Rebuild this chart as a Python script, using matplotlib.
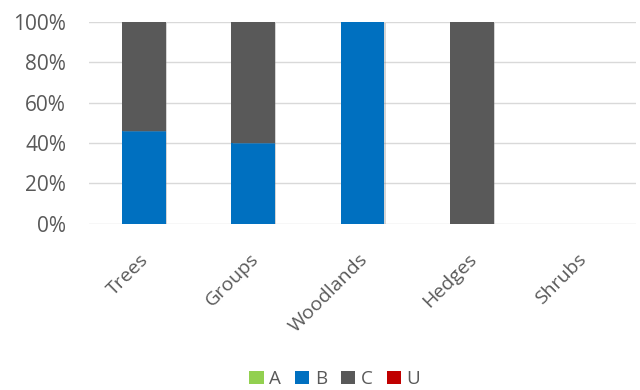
import numpy as np
import matplotlib.pyplot as plt
import matplotlib.patheffects as pe
import matplotlib.transforms as mtrans
from matplotlib.patches import Patch
from matplotlib.ticker import PercentFormatter

categories = ["Trees", "Groups", "Woodlands", "Hedges", "Shrubs"]
series_names = ["A", "B", "C", "U"]
a_vals = [0, 0, 0, 0, 0]
b_vals = [46, 40, 100, 0, 0]
c_vals = [54, 60, 0, 100, 0]
u_vals = [0, 0, 0, 0, 0]
colors = ["#92D050", "#0070C0", "#595959", "#C00000"]

plt.rcParams['font.family'] = ['Open Sans', 'DejaVu Sans']

fig = plt.figure(figsize=(6.4, 3.9), dpi=100)
ax = fig.add_axes([0.139, 0.426, 0.855, 0.518])

x = np.arange(len(categories))
bottom = np.zeros(len(categories))
shadow = [pe.SimplePatchShadow(offset=(1, -1), shadow_rgbFace='#888888', alpha=0.35), pe.Normal()]
for vals, col in zip([a_vals, b_vals, c_vals, u_vals], colors):
    vals = np.array(vals, dtype=float)
    bars = ax.bar(x, vals, bottom=bottom, width=0.4, color=col, zorder=3)
    for b in bars:
        if b.get_height() > 0:
            b.set_path_effects(shadow)
    bottom += vals

ax.set_xlim(-0.5, len(categories) - 0.5)
ax.set_ylim(0, 100)
ax.set_yticks(np.arange(0, 101, 20))
ax.yaxis.set_major_formatter(PercentFormatter(decimals=0))
ax.grid(axis='y', color='#D9D9D9', linewidth=1, zorder=0)
for s in ax.spines.values():
    s.set_visible(False)
ax.tick_params(axis='both', length=0, colors='#595959')
ax.tick_params(axis='y', pad=16.5, labelsize=15)
ax.set_xticks(x)
ax.set_xticklabels(categories, rotation=45, ha='right', rotation_mode='anchor', fontsize=14)
ax.tick_params(axis='x', pad=19)
offset = mtrans.ScaledTranslation(-4 / 100, 0, fig.dpi_scale_trans)
for lab in ax.get_xticklabels():
    lab.set_transform(lab.get_transform() + offset)

handles = [Patch(facecolor=c, edgecolor='none') for c in colors]
fig.legend(handles, series_names, loc='center', bbox_to_anchor=(0.523, 0.028), ncol=4,
           frameon=False, handlelength=0.75, handleheight=0.75, handletextpad=0.3,
           columnspacing=0.75, labelcolor='#595959', fontsize=13.5)

fig.savefig("out.png", dpi=100)
